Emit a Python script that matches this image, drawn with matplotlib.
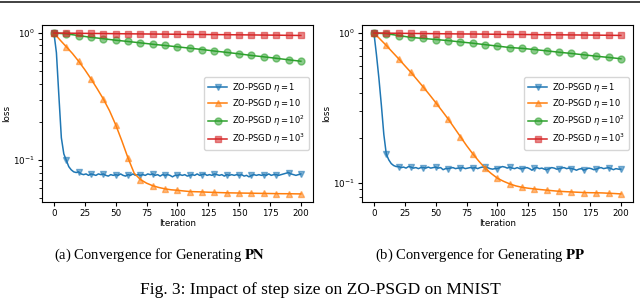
import numpy as np
import matplotlib
matplotlib.use("Agg")
import matplotlib.pyplot as plt
from matplotlib.lines import Line2D

# iteration grids
it2 = np.arange(0, 201, 2)
it5 = np.arange(0, 201, 5)
it10 = np.arange(0, 201, 10)

etas = ["1", "10", "10^2", "10^3"]

# (a) PN
blue_pn = [1.0, 0.70, 0.32, 0.15, 0.112, 0.100, 0.089, 0.084, 0.081, 0.080, 0.081,
           0.078, 0.077, 0.078, 0.076, 0.078, 0.077, 0.076, 0.078, 0.077, 0.078,
           0.076, 0.075, 0.077, 0.076, 0.077, 0.076, 0.078, 0.076, 0.075, 0.077,
           0.076, 0.078, 0.076, 0.077, 0.076, 0.077, 0.076, 0.078, 0.077, 0.078,
           0.076, 0.077, 0.075, 0.077, 0.076, 0.077, 0.076, 0.074, 0.076, 0.076,
           0.077, 0.076, 0.077, 0.075, 0.076, 0.077, 0.076, 0.078, 0.076, 0.077,
           0.078, 0.076, 0.077, 0.076, 0.078, 0.077, 0.076, 0.077, 0.075, 0.077,
           0.076, 0.077, 0.076, 0.077, 0.076, 0.077, 0.075, 0.076, 0.074, 0.076,
           0.077, 0.076, 0.077, 0.076, 0.077, 0.076, 0.078, 0.076, 0.077, 0.077,
           0.076, 0.077, 0.078, 0.079, 0.080, 0.078, 0.077, 0.076, 0.077, 0.078]
orange_pn = [1.0, 0.88, 0.78, 0.69, 0.60, 0.515, 0.436, 0.365, 0.303, 0.245, 0.19,
             0.142, 0.104, 0.079, 0.0705, 0.066, 0.063, 0.061, 0.0595, 0.0585, 0.058,
             0.0573, 0.0567, 0.0565, 0.0563, 0.056, 0.0558, 0.0556, 0.0554, 0.0553, 0.0552,
             0.0551, 0.055, 0.0549, 0.0548, 0.0547, 0.0546, 0.0545, 0.0545, 0.0544, 0.0543]
green_pn = [1.0, 0.985, 0.955, 0.925, 0.902, 0.878, 0.858, 0.837, 0.816, 0.798, 0.779,
            0.760, 0.742, 0.722, 0.704, 0.686, 0.666, 0.650, 0.633, 0.616, 0.600]
red_pn = [1.0, 0.998, 0.995, 0.993, 0.991, 0.988, 0.986, 0.984, 0.982, 0.980, 0.978,
          0.976, 0.974, 0.972, 0.970, 0.968, 0.966, 0.964, 0.962, 0.959, 0.957]

# (b) PP
blue_pp = [1.0, 0.72, 0.50, 0.33, 0.21, 0.155, 0.142, 0.134, 0.130, 0.128, 0.128,
           0.126, 0.127, 0.125, 0.128, 0.127, 0.125, 0.126, 0.124, 0.126, 0.126,
           0.125, 0.127, 0.125, 0.126, 0.127, 0.125, 0.126, 0.122, 0.124, 0.124,
           0.125, 0.126, 0.124, 0.125, 0.125, 0.126, 0.124, 0.125, 0.126, 0.125,
           0.126, 0.124, 0.126, 0.127, 0.127, 0.126, 0.124, 0.123, 0.124, 0.124,
           0.126, 0.128, 0.127, 0.125, 0.127, 0.125, 0.124, 0.126, 0.124, 0.124,
           0.125, 0.126, 0.124, 0.121, 0.125, 0.126, 0.124, 0.125, 0.123, 0.122,
           0.124, 0.126, 0.125, 0.123, 0.124, 0.125, 0.126, 0.124, 0.125, 0.124,
           0.123, 0.121, 0.123, 0.124, 0.121, 0.123, 0.125, 0.124, 0.122, 0.123,
           0.125, 0.126, 0.124, 0.125, 0.126, 0.124, 0.122, 0.124, 0.123, 0.123]
orange_pp = [1.0, 0.91, 0.826, 0.745, 0.673, 0.605, 0.545, 0.487, 0.435, 0.387, 0.343,
             0.303, 0.267, 0.233, 0.203, 0.177, 0.156, 0.139, 0.125, 0.115, 0.107,
             0.102, 0.098, 0.095, 0.093, 0.0917, 0.0907, 0.0898, 0.089, 0.0882, 0.0875,
             0.087, 0.0866, 0.0862, 0.0858, 0.0856, 0.0855, 0.0853, 0.0849, 0.0845, 0.084]
green_pp = [1.0, 0.99, 0.962, 0.935, 0.92, 0.905, 0.89, 0.872, 0.855, 0.836, 0.818,
            0.80, 0.79, 0.775, 0.76, 0.744, 0.73, 0.715, 0.70, 0.687, 0.673]
red_pp = [1.0, 0.998, 0.996, 0.994, 0.992, 0.990, 0.988, 0.986, 0.985, 0.983, 0.981,
          0.979, 0.978, 0.976, 0.974, 0.973, 0.971, 0.970, 0.968, 0.966, 0.964]

colors = ["#1f77b4", "#ff7f0e", "#2ca02c", "#d62728"]
markers = ["v", "^", "o", "s"]


def panel(ax, series):
    for (x, y), c, m, eta in zip(series, colors, markers, etas):
        step = x[1] - x[0]
        ax.plot(x, y, color=c, lw=1.1, marker=m, markevery=int(10 // step),
                ms=5, mfc=matplotlib.colors.to_rgba(c, 0.55),
                mec=matplotlib.colors.to_rgba(c, 0.55),
                label=r"ZO-PSGD $\eta = %s$" % eta)
    ax.set_yscale("log")
    ax.set_xticks(np.arange(0, 201, 25))
    ax.tick_params(labelsize=6.3, length=3, width=0.8, pad=2)
    ax.tick_params(which="minor", length=2, width=0.6)
    ax.set_xlabel("Iteration", fontsize=6.3, labelpad=1)
    ax.set_ylabel("loss", fontsize=6.3, labelpad=1)
    ax.legend(loc="center right", fontsize=6, handlelength=2.3,
              borderaxespad=0.5, labelspacing=0.4, handletextpad=0.6,
              borderpad=0.45, framealpha=0.8)


fig = plt.figure(figsize=(6.4, 3.01), dpi=100)
ax1 = fig.add_axes([0.065, 0.329, 0.4244, 0.588])
ax2 = fig.add_axes([0.565, 0.329, 0.4244, 0.588])

panel(ax1, [(it2, blue_pn), (it5, orange_pn), (it10, green_pn), (it10, red_pn)])
panel(ax2, [(it2, blue_pp), (it5, orange_pp), (it10, green_pp), (it10, red_pp)])

serif = "Liberation Serif"
fig.text(0.25, 1 - 255 / 301, r"(a) Convergence for Generating $\mathbf{PN}$",
         ha="center", va="center", fontsize=10.5, family=serif, math_fontfamily="stix")
fig.text(0.75, 1 - 255 / 301, r"(b) Convergence for Generating $\mathbf{PP}$",
         ha="center", va="center", fontsize=10.5, family=serif, math_fontfamily="stix")
fig.text(0.5, 1 - 290 / 301, "Fig. 3: Impact of step size on ZO-PSGD on MNIST",
         ha="center", va="center", fontsize=12.5, family=serif)

# page rule at top
fig.add_artist(Line2D([0, 1], [1 - 2 / 301, 1 - 2 / 301], color="#333333", lw=1.3,
                      transform=fig.transFigure))

fig.savefig("out.png", dpi=100)
